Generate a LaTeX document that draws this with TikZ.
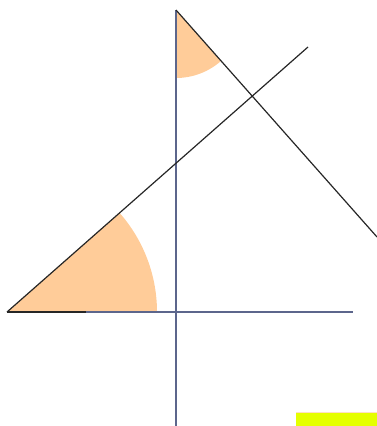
\documentclass[tikz,border=0pt]{standalone}
\usepackage{tikz}
\definecolor{sector}{RGB}{255,204,153}
\definecolor{axisblue}{RGB}{92,102,140}
\definecolor{marker}{RGB}{229,255,0}
\tikzset{
  axisline/.style={draw=axisblue,line width=1.2pt},
  slantline/.style={draw=black!85,line width=1.2pt},
}
\begin{document}
\begin{tikzpicture}[x=1pt,y=-1pt]
\useasboundingbox (0,0) rectangle (377,426);
\coordinate (A) at (7,312);
\coordinate (T) at (176,10);

% angle sectors
\fill[sector] (A) -- ++(0:150) arc[start angle=0,end angle=-41.4,radius=150] -- cycle;
\fill[sector] (T) -- ++(90:68) arc[start angle=90,end angle=48.5,radius=68] -- cycle;

% axes
\draw[axisline] (176,10) -- (176,426);
\draw[axisline] (7,312) -- (353,312);
\draw[slantline] (7,312) -- (86,312);

% slanted lines
\draw[slantline] (A) -- (308,47);
\draw[slantline] (T) -- (377,237);

\fill[marker] (296,412) rectangle (377,426);
\draw[sector!60,line width=0.6pt] (296,412) -- (377,412);
\end{tikzpicture}
\end{document}
